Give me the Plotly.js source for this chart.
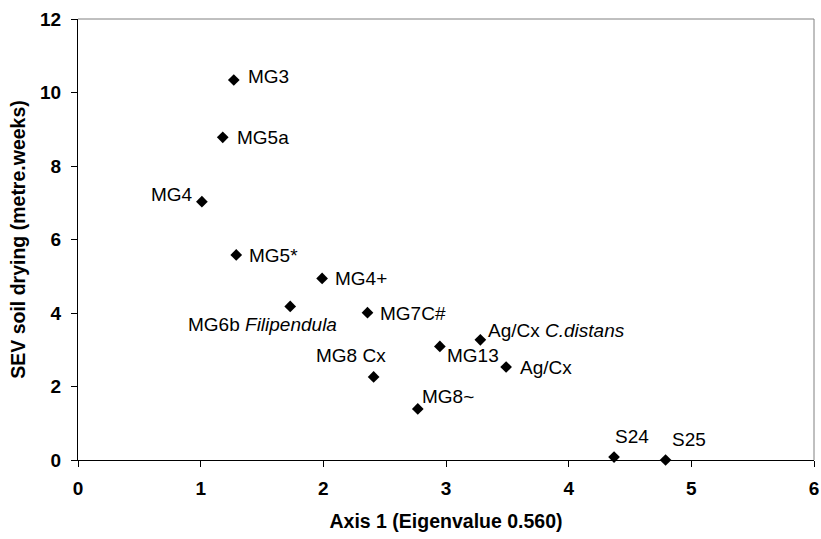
<!DOCTYPE html>
<html>
<head>
<meta charset="utf-8">
<script src="https://cdn.plot.ly/plotly-3.0.1.min.js"></script>
<style>
body{margin:0;background:#fff}
#chart{width:821px;height:539px}
#chart .xtick text, #chart .ytick text{font-weight:bold !important}
</style>
</head>
<body>
<div id="chart"></div>
<script>
// Data
const communities = ["MG3","MG5a","MG4","MG5*","MG4+","MG6b <i>Filipendula</i>","MG7C#","MG8 Cx","MG8~","MG13","Ag/Cx <i>C.distans</i>","Ag/Cx","S24","S25"];
const axis1 = [1.27, 1.18, 1.01, 1.29, 1.99, 1.73, 2.36, 2.41, 2.77, 2.95, 3.28, 3.49, 4.37, 4.79];
const sevDrying = [10.34, 8.78, 7.03, 5.58, 4.94, 4.18, 4.01, 2.26, 1.39, 3.09, 3.27, 2.53, 0.08, 0.0];
const xTicks = [0,1,2,3,4,5,6];
const yTicks = [0,2,4,6,8,10,12];

// Label placement (pixels relative to the marker): [xanchor, xshift, yshift]
const labelPlacement = [
  ["left", 12, 4], ["left", 12, 0], ["right", -7, 7], ["left", 11, -1],
  ["left", 11, 0], ["center", -28, -18], ["left", 11, -1], ["center", -23, 21],
  ["left", 2, 12], ["left", 5, -9], ["left", 6, 9], ["left", 12, 0],
  ["left", -1, 21], ["left", 4, 21]
];

const FONT = "Liberation Sans";

const trace = {
  x: axis1, y: sevDrying, mode: "markers", type: "scatter",
  marker: {symbol: "diamond", size: 9, color: "#000"},
  hoverinfo: "x+y", cliponaxis: false
};

const annotations = communities.map((t, i) => ({
  x: axis1[i], y: sevDrying[i], xref: "x", yref: "y", text: t,
  showarrow: false, xanchor: labelPlacement[i][0], yanchor: "middle",
  xshift: labelPlacement[i][1], yshift: labelPlacement[i][2],
  font: {family: FONT, size: 19, color: "#000"}
}));

const layout = {
  width: 821, height: 539,
  margin: {l: 78, r: 7, t: 19, b: 79},
  paper_bgcolor: "#fff", plot_bgcolor: "#fff",
  showlegend: false,
  font: {family: FONT, color: "#000"},
  xaxis: {
    range: [0, 6], tickvals: xTicks, ticktext: xTicks.map(String),
    showgrid: false, zeroline: false, showline: true, linecolor: "#000", linewidth: 1,
    ticks: "outside", ticklen: 6, tickcolor: "#000",
    tickfont: {family: FONT, size: 19, weight: "bold", color: "#000"},
    ticklabelstandoff: 5,
    title: {text: "<b>Axis 1 (Eigenvalue 0.560)</b>", font: {family: FONT, size: 19.5, color: "#000"}, standoff: 16}
  },
  yaxis: {
    range: [0, 12], tickvals: yTicks, ticktext: yTicks.map(String),
    showgrid: false, zeroline: false, showline: true, linecolor: "#000", linewidth: 1,
    ticks: "outside", ticklen: 6, tickcolor: "#000",
    tickfont: {family: FONT, size: 19, weight: "bold", color: "#000"},
    ticklabelstandoff: 6,
    title: {text: "<b>SEV soil drying (metre.weeks)</b>", font: {family: FONT, size: 19.5, color: "#000"}, standoff: 9}
  },
  shapes: [
    {type: "line", xref: "paper", yref: "paper", x0: 0, x1: 1, y0: 1, y1: 1, line: {color: "#808080", width: 1}},
    {type: "line", xref: "paper", yref: "paper", x0: 1, x1: 1, y0: 0, y1: 1, line: {color: "#808080", width: 1}}
  ],
  annotations: annotations
};

Plotly.newPlot("chart", [trace], layout, {displayModeBar: false, staticPlot: true}).then(gd => {
  gd.querySelectorAll(".xtick text, .ytick text").forEach(t => t.style.fontWeight = "bold");
});
</script>
</body>
</html>
